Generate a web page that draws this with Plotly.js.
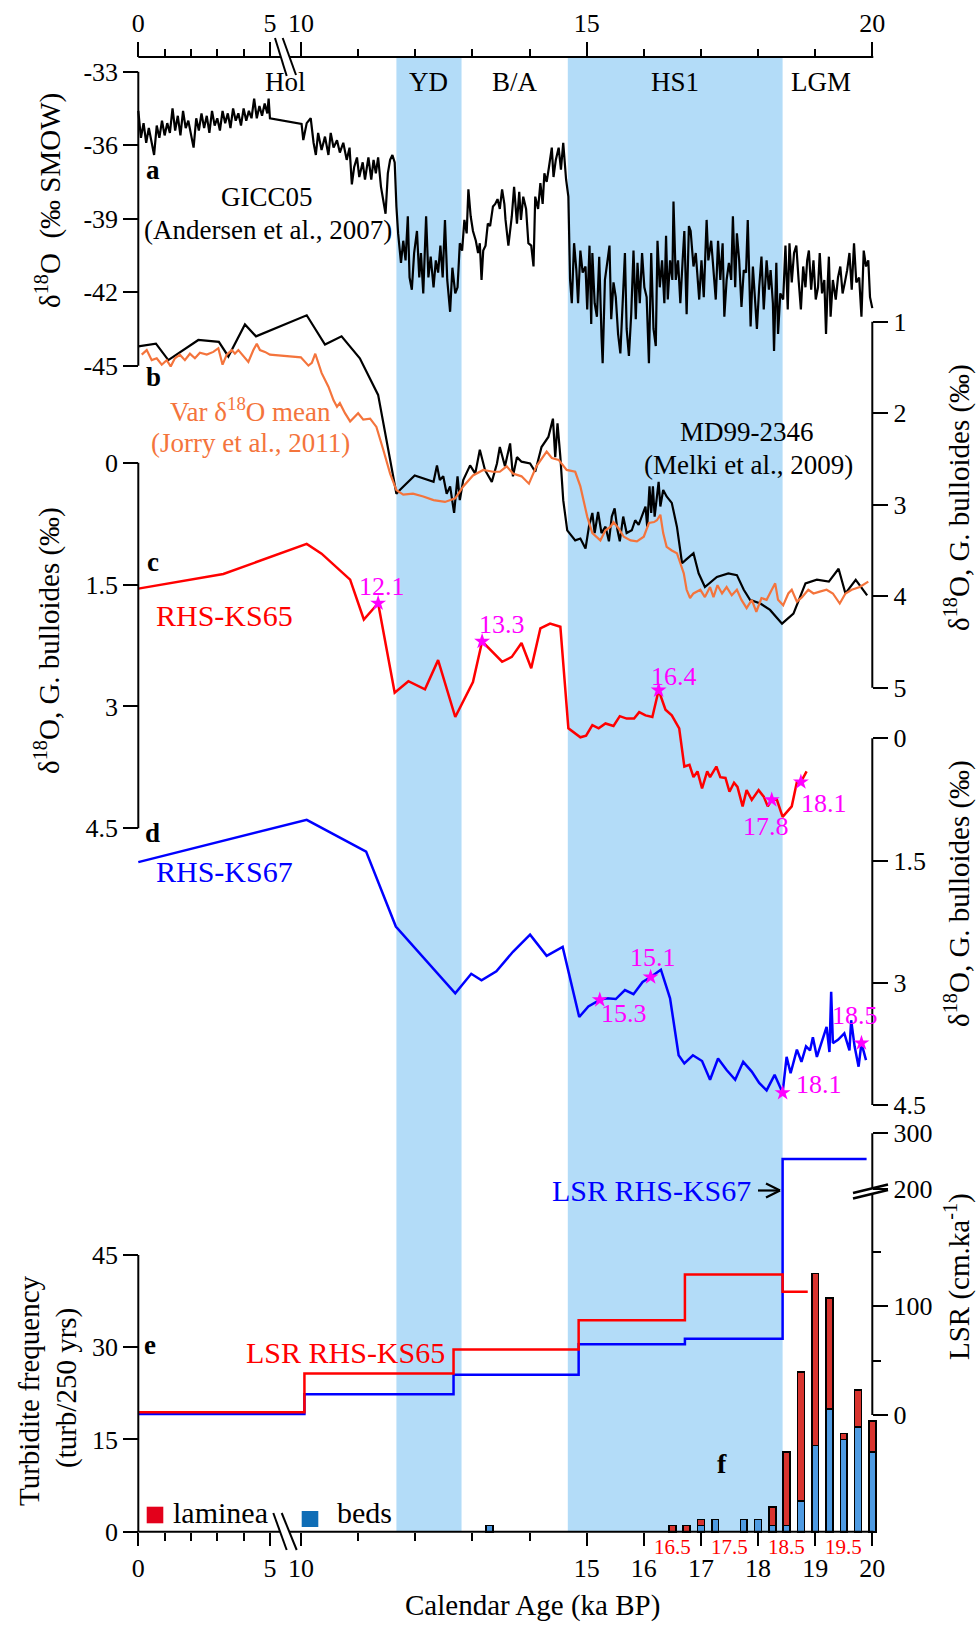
<!DOCTYPE html>
<html>
<head>
<meta charset="utf-8">
<script src="https://cdn.plot.ly/plotly-3.0.1.min.js"></script>
<style>
html, body { margin: 0; padding: 0; background: #fff; }
#chart { width: 978px; height: 1642px; }
</style>
</head>
<body>
<div id="chart"></div>
<script>
// ---------------- data ----------------
// a: GICC05 Greenland ice-core d18O (permil SMOW)
const gicc05Age = [
  0.00,0.10,0.20,0.30,0.40,0.50,0.60,0.70,0.80,0.90,1.00,1.10,1.20,1.30,1.40,1.50,1.60,1.70,1.80,1.90,
  2.00,2.10,2.20,2.30,2.40,2.50,2.60,2.70,2.80,2.90,3.00,3.10,3.20,3.30,3.40,3.50,3.60,3.70,3.80,3.90,
  4.00,4.10,4.20,4.30,4.40,4.50,4.60,4.70,4.80,4.90,4.95,5.00,
  10.01,10.04,10.10,10.17,10.22,10.26,10.30,10.36,10.42,10.48,10.52,10.57,10.63,10.68,10.74,10.80,10.85,10.89,10.93,10.98,
  11.02,11.08,11.12,11.18,11.23,11.27,11.31,11.35,11.40,11.44,11.48,11.52,11.56,11.60,11.64,11.67,11.70,11.75,11.79,11.83,
  11.87,11.90,11.94,11.98,12.03,12.07,12.10,12.14,12.19,12.23,12.27,12.32,12.36,12.40,12.44,12.48,12.52,12.56,12.61,12.65,
  12.70,12.74,12.78,12.82,12.86,12.90,12.93,12.97,13.01,13.06,13.10,13.13,13.16,13.19,13.23,13.27,13.31,13.36,13.40,13.44,
  13.48,13.52,13.56,13.58,13.63,13.69,13.73,13.78,13.82,13.85,13.89,13.94,13.98,14.03,14.07,14.10,14.15,14.19,14.23,14.26,
  14.30,14.34,14.39,14.42,14.46,14.51,14.55,14.59,14.64,14.68,14.71,14.74,14.78,14.82,14.85,14.89,14.93,14.98,15.01,15.05,
  15.08,15.10,15.14,15.18,15.22,15.26,15.28,15.32,15.36,15.40,15.43,15.47,15.51,15.55,15.59,15.63,15.67,15.70,15.74,15.78,
  15.82,15.86,15.89,15.93,15.97,16.01,16.05,16.09,16.13,16.17,16.21,16.24,16.28,16.32,16.36,16.39,16.42,16.46,16.50,16.52,
  16.56,16.60,16.64,16.68,16.71,16.75,16.79,16.82,16.87,16.91,16.97,17.01,17.05,17.10,17.13,17.18,17.22,17.26,17.30,17.34,
  17.38,17.41,17.45,17.49,17.53,17.56,17.60,17.63,17.67,17.71,17.75,17.79,17.82,17.87,17.91,17.95,17.98,18.02,18.06,18.10,
  18.15,18.19,18.22,18.26,18.28,18.32,18.35,18.39,18.44,18.48,18.52,18.55,18.59,18.63,18.67,18.71,18.75,18.79,18.83,18.86,
  18.89,18.93,18.97,19.01,19.05,19.08,19.12,19.16,19.19,19.22,19.24,19.27,19.31,19.36,19.40,19.44,19.48,19.52,19.56,19.60,
  19.64,19.68,19.72,19.77,19.81,19.85,19.89,19.93,19.96,20.00
];
const gicc05D18O = [
  -34.6,-35.7,-35.1,-35.9,-35.3,-35.8,-36.4,-35.2,-35.7,-35.0,-35.6,-35.1,-35.5,-34.5,-35.4,-34.8,-35.6,-34.6,-35.3,-35.0,
  -35.5,-36.1,-34.9,-35.4,-34.7,-35.3,-34.8,-35.5,-34.6,-35.2,-34.9,-35.4,-34.6,-35.1,-34.7,-35.3,-34.5,-35.0,-34.7,-35.2,
  -34.5,-35.0,-34.6,-34.9,-34.1,-34.9,-34.4,-34.8,-34.3,-34.7,-34.1,-34.9,
  -35.13,-35.79,-35.10,-34.90,-35.90,-36.40,-35.50,-36.20,-35.65,-36.40,-35.50,-36.10,-35.80,-36.30,-35.90,-36.60,-36.10,-37.60,-36.90,-36.50,
  -37.30,-36.70,-37.40,-36.50,-37.40,-36.60,-37.15,-36.50,-37.70,-38.20,-38.80,-37.15,-36.60,-36.40,-36.70,-38.50,-39.60,-40.80,-39.90,-40.70,
  -38.90,-41.40,-41.90,-40.40,-39.50,-41.40,-40.40,-42.05,-38.90,-41.40,-40.55,-41.80,-40.70,-41.20,-40.10,-41.40,-39.05,-41.50,-42.80,-41.00,
  -42.05,-41.80,-40.00,-40.30,-39.05,-39.60,-37.80,-38.90,-39.50,-39.90,-40.40,-40.00,-41.50,-40.30,-40.10,-39.20,-39.30,-38.50,-38.40,-38.20,
  -38.60,-37.80,-38.40,-39.05,-40.10,-38.90,-37.70,-39.20,-37.90,-39.05,-38.10,-38.60,-40.00,-40.10,-40.95,-38.10,-38.60,-37.55,-38.40,-37.15,
  -37.50,-36.90,-36.10,-37.30,-36.60,-36.10,-37.00,-35.90,-37.40,-38.10,-41.50,-42.45,-40.00,-41.10,-42.45,-40.30,-41.20,-40.95,-42.70,-40.10,
  -43.30,-40.40,-42.45,-43.00,-40.55,-43.80,-44.90,-41.50,-40.70,-40.10,-43.10,-41.60,-42.20,-43.70,-44.50,-42.20,-40.40,-43.50,-44.60,-42.90,
  -40.30,-43.10,-40.80,-42.45,-40.40,-41.80,-42.20,-44.90,-40.40,-43.50,-44.20,-39.90,-41.80,-40.70,-42.45,-39.70,-42.30,-40.70,-41.50,-38.30,
  -41.50,-40.70,-42.45,-40.70,-39.50,-42.90,-39.30,-39.50,-40.95,-40.40,-42.30,-40.70,-42.20,-39.05,-40.70,-39.90,-40.95,-42.30,-39.90,-41.50,
  -40.00,-43.00,-41.50,-40.80,-41.50,-38.90,-41.80,-39.60,-40.70,-42.60,-41.10,-41.20,-39.05,-43.40,-40.95,-42.30,-43.50,-41.80,-40.55,-42.70,
  -40.70,-41.90,-41.10,-42.45,-44.40,-40.80,-43.70,-42.05,-42.30,-40.10,-42.70,-40.00,-41.60,-40.40,-40.10,-41.50,-42.70,-40.95,-41.80,-40.70,
  -40.30,-41.90,-40.70,-42.30,-41.80,-40.40,-42.05,-41.50,-43.70,-41.60,-40.55,-43.00,-41.50,-42.30,-41.40,-40.95,-42.05,-41.60,-41.10,-40.40,
  -41.90,-40.00,-41.60,-41.40,-43.00,-40.30,-40.95,-40.70,-42.20,-42.65
];

// b: MD99-2346 G. bulloides d18O (permil)
const md99Age = [0,0.67,1.14,2.28,3.06,3.42,4.05,4.47,10.10,10.42,10.71,11.03,11.35,11.67,11.73,11.99,12.32,12.38,12.43,12.49,
  12.55,12.61,12.68,12.74,12.78,12.84,12.96,13.05,13.13,13.22,13.34,13.43,13.48,13.57,13.66,13.71,13.78,13.86,14.01,14.10,
  14.21,14.33,14.41,14.45,14.49,14.54,14.59,14.66,14.80,14.89,14.98,15.04,15.10,15.14,15.20,15.26,15.33,15.39,15.44,15.49,
  15.54,15.58,15.64,15.70,15.79,15.85,15.91,15.98,16.03,16.06,16.10,16.13,16.16,16.19,16.23,16.26,16.29,16.32,16.34,16.40,
  16.49,16.58,16.67,16.74,16.87,16.96,17.07,17.28,17.48,17.63,17.75,17.86,18.04,18.21,18.42,18.62,18.74,18.83,19.03,19.24,
  19.41,19.53,19.71,19.91];
const md99D18O = [1.27,1.24,1.42,1.20,1.22,1.38,1.03,1.16,0.93,1.25,1.16,1.40,1.80,2.88,2.84,2.68,2.75,2.57,2.73,2.69,
  2.88,2.80,3.09,2.69,2.95,2.73,2.57,2.66,2.40,2.62,2.75,2.55,2.37,2.58,2.33,2.69,2.48,2.53,2.55,2.64,
  2.37,2.26,2.06,2.48,2.11,2.48,2.95,3.28,3.39,3.37,3.48,3.24,3.09,3.31,3.08,3.31,3.24,3.40,3.13,3.04,
  3.28,3.40,3.13,3.31,3.28,3.17,3.22,3.09,3.02,3.24,2.80,3.09,2.80,3.13,2.88,2.75,3.02,2.91,2.84,2.91,
  2.98,3.24,3.64,3.60,3.53,3.75,3.90,3.79,3.75,3.77,3.93,4.04,4.08,4.15,4.30,4.19,4.01,3.86,3.82,3.84,
  3.70,3.97,3.82,3.99];

// b: Var d18O mean (Jorry et al., 2011)
const varMeanAge = [0.13,0.32,0.51,0.70,0.89,1.08,1.23,1.39,1.58,1.77,1.96,2.15,2.34,2.60,2.85,3.04,3.20,3.36,3.55,3.67,
  3.80,3.96,4.18,4.37,4.50,4.62,4.81,5.00,9.98,10.13,10.19,10.25,10.30,10.36,10.48,10.57,10.63,10.68,10.77,10.86,
  11.00,11.09,11.21,11.32,11.44,11.56,11.67,11.79,11.96,12.14,12.32,12.52,12.70,12.84,13.01,13.19,13.36,13.48,13.60,13.71,
  13.86,13.99,14.12,14.30,14.39,14.51,14.65,14.80,14.89,14.95,15.01,15.10,15.18,15.24,15.33,15.42,15.47,15.56,15.65,15.77,
  15.88,16.00,16.09,16.18,16.23,16.29,16.34,16.40,16.49,16.58,16.64,16.70,16.75,16.81,16.87,16.99,17.07,17.16,17.22,17.29,
  17.37,17.45,17.54,17.63,17.71,17.80,17.89,17.97,18.06,18.15,18.24,18.30,18.35,18.44,18.53,18.59,18.68,18.77,18.88,18.97,
  19.08,19.20,19.31,19.43,19.53,19.64,19.78,19.93];
const varMeanD18O = [1.36,1.31,1.42,1.40,1.47,1.42,1.49,1.40,1.36,1.42,1.35,1.40,1.34,1.36,1.33,1.29,1.47,1.36,1.31,1.35,
  1.31,1.36,1.44,1.31,1.24,1.31,1.33,1.36,1.39,1.48,1.45,1.35,1.44,1.56,1.71,1.86,1.93,1.89,2.00,2.09,
  2.00,2.07,2.06,2.15,2.40,2.66,2.84,2.89,2.88,2.91,2.95,2.97,2.93,2.80,2.68,2.62,2.64,2.64,2.58,2.66,
  2.69,2.77,2.58,2.42,2.49,2.51,2.62,2.64,2.80,2.95,3.13,3.31,3.35,3.39,3.28,3.24,3.19,3.26,3.35,3.39,
  3.40,3.35,3.20,3.19,3.17,3.11,3.31,3.46,3.50,3.53,3.64,3.75,3.93,4.02,3.97,3.93,4.01,3.90,4.01,3.88,
  3.97,3.90,3.99,3.93,4.04,4.13,4.04,4.17,4.02,4.04,3.93,3.86,4.04,4.10,3.97,3.93,4.06,4.01,3.93,3.97,
  3.95,3.93,3.97,4.08,3.97,3.93,3.90,3.84];

// c: RHS-KS65 G. bulloides d18O (permil)
const ks65Age = [0,3.23,10.10,10.36,10.86,11.10,11.35,11.64,11.88,12.17,12.40,12.70,13.01,13.17,13.52,13.69,13.86,14.03,14.19,14.36,
  14.54,14.68,14.89,14.99,15.10,15.21,15.33,15.47,15.58,15.70,15.83,15.92,16.03,16.15,16.26,16.38,16.49,16.62,16.71,16.80,
  16.87,16.94,17.02,17.11,17.16,17.27,17.34,17.43,17.50,17.58,17.64,17.73,17.80,17.89,18.01,18.10,18.17,18.24,18.33,18.43,
  18.59,18.68,18.75,18.85];
const ks65D18O = [1.55,1.37,1.00,1.12,1.44,1.93,1.73,2.83,2.69,2.79,2.43,3.13,2.70,2.20,2.45,2.39,2.22,2.53,2.04,1.98,
  2.02,3.27,3.38,3.36,3.23,3.27,3.21,3.24,3.12,3.15,3.15,3.07,3.11,3.13,2.80,3.04,3.11,3.27,3.74,3.72,
  3.87,3.80,4.01,3.80,3.87,3.74,3.87,3.88,4.05,3.94,3.99,4.23,4.03,4.15,4.03,4.11,4.23,4.15,4.15,4.36,
  4.23,3.93,3.93,3.80];
const ks65DateAge = [11.35, 13.17, 16.26, 18.24, 18.75];
const ks65DateD18O = [1.73, 2.20, 2.80, 4.15, 3.93];
const ks65DateLabel = ['12.1', '13.3', '16.4', '17.8', '18.1'];

// d: RHS-KS67 G. bulloides d18O (permil)
const ks67Age = [0,10.10,11.14,11.66,12.70,12.98,13.16,13.42,13.71,14.01,14.30,14.58,14.87,15.03,15.23,15.35,15.51,15.67,15.82,15.98,
  16.12,16.30,16.46,16.61,16.71,16.86,17.02,17.16,17.30,17.45,17.60,17.74,17.89,18.02,18.15,18.29,18.43,18.50,18.57,18.68,
  18.76,18.84,18.91,18.96,19.03,19.11,19.20,19.25,19.28,19.31,19.40,19.51,19.60,19.63,19.69,19.76,19.81,19.89];
const ks67D18O = [1.52,1.00,1.39,2.31,3.13,2.89,2.97,2.86,2.62,2.41,2.67,2.56,3.42,3.29,3.21,3.19,3.20,3.09,3.14,2.99,
  2.93,2.84,3.19,3.89,3.99,3.89,3.96,4.19,3.93,4.07,4.19,3.97,4.09,4.23,4.32,4.13,4.35,3.91,4.11,3.82,
  3.97,3.78,3.83,3.67,3.91,3.74,3.54,3.85,3.11,3.74,3.70,3.62,3.83,3.46,3.78,4.03,3.74,3.95];
const ks67DateAge = [15.23, 16.12, 18.43, 19.81];
const ks67DateD18O = [3.21, 2.93, 4.35, 3.74];
const ks67DateLabel = ['15.3', '15.1', '18.1', '18.5'];

// e: linear sedimentation rates (cm/ka), step starts
const lsrKs65Age = [0, 10.06, 12.67, 14.86, 16.72, 18.43, 18.87];
const lsrKs65 = [2.5, 38, 60, 87, 129, 113, 113];
const lsrKs67Age = [0, 10.06, 12.67, 14.86, 16.72, 18.43, 19.90];
const lsrKs67 = [1, 19, 37, 65, 70, 254, 254];

// f: turbidite frequency (turbidites per 250 yrs)
const turbAge = [13.3, 16.5, 16.75, 17.0, 17.25, 17.75, 18.0, 18.25, 18.5, 18.75, 19.0, 19.25, 19.5, 19.75, 20.0];
const turbBeds = [1, 0, 0, 1, 2, 2, 2, 1, 1, 5, 14, 20, 15, 17, 13];
const turbLaminae = [0, 1, 1, 1, 0, 0, 0, 3, 12, 21, 28, 18, 1, 6, 5];
const turbAgeMarks = [16.5, 17.5, 18.5, 19.5];

// climatic periods
const bandStart = [11.67, 14.67];
const bandEnd = [12.81, 18.43];
const periodLabel = ['Hol', 'YD', 'B/A', 'HS1', 'LGM'];
const periodAge = [7.5, 12.24, 13.74, 16.55, 19.1];

// axis ticks
const topTicks = [0, 5, 10, 15, 20];
const bottomTicks = [0, 5, 10, 15, 16, 17, 18, 19, 20];
const minorAgeTicks = [1, 2, 3, 4, 11, 12, 13, 14, 16, 17, 18, 19];
const giccTicks = [-33, -36, -39, -42, -45];
const md99Ticks = [1, 2, 3, 4, 5];
const ksTicks = [0, 1.5, 3, 4.5];
const turbTicks = [0, 15, 30, 45];
const lsrTicks = [0, 100, 200, 300];
const lsrMinorTicks = [50, 150];

// ---------------- geometry ----------------
const W = 978, H = 1642;
const FONT = '"Liberation Serif", "Times New Roman", serif';
const AGE0_PX = 138.3, HOL_PX_PER_KA = 26.33, AGE10_PX = 301, PX_PER_KA = 57.13;
const LEFT_PX = 138.3, RIGHT_PX = 872.3;

// broken age axis: 0-5 ka compressed, 5-10 ka cut, 10-20 ka full scale
function ageToU(t) {
  let px;
  const p5 = AGE0_PX + 5 * HOL_PX_PER_KA;
  if (t <= 5) px = AGE0_PX + t * HOL_PX_PER_KA;
  else if (t >= 10) px = AGE10_PX + (t - 10) * PX_PER_KA;
  else px = p5 + (t - 5) / 5 * (AGE10_PX - p5);
  return (px - AGE0_PX) / PX_PER_KA;
}
// broken LSR axis: linear to 150, compressed above 200
function lsrToD(v) {
  return v <= 160 ? v : 207.1 + (v - 200) * 0.513;
}
const px2x = px => px / W;
const py2y = py => 1 - py / H;

function ySpan(vA, pA, vB, pB, top, bot) {
  const k = (vB - vA) / (pB - pA);
  const at = p => vA + (p - pA) * k;
  return { domain: [py2y(bot), py2y(top)], range: [at(bot), at(top)] };
}

function yAxis(span, side, posPx, tickvals, ticktext, extra) {
  return Object.assign({
    domain: span.domain, range: span.range, anchor: 'free', position: px2x(posPx), side: side,
    showline: false, zeroline: false, showgrid: false,
    ticks: 'outside', ticklen: 15, tickwidth: 2, tickcolor: '#000',
    tickmode: 'array', tickvals: tickvals, ticktext: ticktext,
    tickfont: { family: FONT, size: 26, color: '#000' }, fixedrange: true
  }, extra || {});
}

const xDomainPx = [126, 886];
const xRange = [(xDomainPx[0] - AGE0_PX) / PX_PER_KA, (xDomainPx[1] - AGE0_PX) / PX_PER_KA];

const BAND = '#b3dcf8', ORANGE = '#f4743c', RED = '#ff0000', BLUE = '#0000ff', MAGENTA = '#ff00ff';
const LAM = '#d8342f', BEDS = '#4f9be2', LAM_KEY = '#e3001b', BEDS_KEY = '#0f6db6';

// ---------------- traces ----------------
const U = a => a.map(ageToU);
const line = (x, y, yaxis, color, width, shape) => ({
  type: 'scatter', mode: 'lines', x: U(x), y: y, yaxis: yaxis, xaxis: 'x',
  line: { color: color, width: width, shape: shape || 'linear' }, hoverinfo: 'skip'
});

const traces = [
  line(gicc05Age, gicc05D18O, 'y', '#000', 2.2),
  line(md99Age, md99D18O, 'y2', '#000', 2.2),
  line(varMeanAge, varMeanD18O, 'y2', ORANGE, 2.2),
  line(ks65Age, ks65D18O, 'y3', RED, 2.5),
  line(ks67Age, ks67D18O, 'y4', BLUE, 2.5),
  {
    type: 'scatter', mode: 'markers', x: U(ks65DateAge), y: ks65DateD18O, xaxis: 'x', yaxis: 'y3',
    marker: { symbol: 'star', size: 12, color: MAGENTA }, hoverinfo: 'skip'
  },
  {
    type: 'scatter', mode: 'markers', x: U(ks67DateAge), y: ks67DateD18O, xaxis: 'x', yaxis: 'y4',
    marker: { symbol: 'star', size: 12, color: MAGENTA }, hoverinfo: 'skip'
  },
  line(lsrKs67Age, lsrKs67.map(lsrToD), 'y6', BLUE, 2.5, 'hv'),
  line(lsrKs65Age, lsrKs65.map(lsrToD), 'y6', RED, 2.5, 'hv'),
  {
    type: 'bar', x: U(turbAge), y: turbBeds, xaxis: 'x', yaxis: 'y5', width: 0.12,
    marker: { color: BEDS, line: { color: '#000', width: 1.6 } }, hoverinfo: 'skip'
  },
  {
    type: 'bar', x: U(turbAge), y: turbLaminae, xaxis: 'x', yaxis: 'y5', width: 0.12,
    marker: { color: LAM, line: { color: '#000', width: 1.6 } }, hoverinfo: 'skip'
  },
  // carries the top age axis
  { type: 'scatter', mode: 'markers', x: [ageToU(0)], y: [-33], xaxis: 'x2', yaxis: 'y',
    marker: { opacity: 0 }, hoverinfo: 'skip' }
];

// ---------------- shapes ----------------
const shapes = [];
for (let i = 0; i < bandStart.length; i++) {
  shapes.push({
    type: 'rect', xref: 'x', yref: 'paper', x0: ageToU(bandStart[i]), x1: ageToU(bandEnd[i]),
    y0: py2y(1531.7), y1: py2y(57), fillcolor: BAND, line: { width: 0 }, layer: 'below'
  });
}
const seg = (x0, y0, x1, y1, w) => ({
  type: 'line', xref: 'paper', yref: 'paper', x0: px2x(x0), y0: py2y(y0), x1: px2x(x1), y1: py2y(y1),
  line: { color: '#000', width: w || 2 }, layer: 'above'
});
const vAxisLine = (px, yref, v0, v1) => ({
  type: 'line', xref: 'paper', yref: yref, x0: px2x(px), x1: px2x(px), y0: v0, y1: v1,
  line: { color: '#000', width: 2 }, layer: 'above'
});
// top and bottom age axes with break marks
shapes.push(seg(LEFT_PX, 57, 280.9, 57), seg(289.5, 57, RIGHT_PX + 1, 57));
shapes.push(seg(275, 38, 286.7, 76, 2), seg(282.7, 38, 296, 75, 2));
shapes.push(seg(LEFT_PX, 1531.7, 280.1, 1531.7), seg(289.3, 1531.7, RIGHT_PX + 1, 1531.7));
shapes.push(seg(273.3, 1513, 286.7, 1550, 2), seg(281.7, 1513, 296.7, 1550, 2));
// vertical axis lines
shapes.push(vAxisLine(LEFT_PX, 'y', -33, -45));
shapes.push(vAxisLine(RIGHT_PX, 'y2', 1, 5));
shapes.push(vAxisLine(LEFT_PX, 'y3', 0, 4.5));
shapes.push(vAxisLine(RIGHT_PX, 'y4', 0, 4.5));
shapes.push(vAxisLine(LEFT_PX, 'y5', 0, 45));
// LSR axis with a break near 200
shapes.push(seg(RIGHT_PX, 1133.3, RIGHT_PX, 1188.3), seg(RIGHT_PX, 1193.8, RIGHT_PX, 1415));
shapes.push(seg(853, 1193, 888, 1184.5, 2.5), seg(853, 1198.5, 888, 1190, 2.5));
// arrow from the LSR RHS-KS67 label
shapes.push(seg(758, 1190.5, 780, 1190.5, 2.2), seg(766, 1183.5, 780, 1190.5, 2.2), seg(766, 1197.5, 780, 1190.5, 2.2));
// legend keys
shapes.push({ type: 'rect', xref: 'paper', yref: 'paper', x0: px2x(146.7), x1: px2x(163.3),
  y0: py2y(1523.3), y1: py2y(1506.7), fillcolor: LAM_KEY, line: { width: 0 } });
shapes.push({ type: 'rect', xref: 'paper', yref: 'paper', x0: px2x(301.7), x1: px2x(318.3),
  y0: py2y(1527), y1: py2y(1511), fillcolor: BEDS_KEY, line: { width: 0 } });

// ---------------- annotations ----------------
const ann = [];
const txt = (px, py, text, size, color, opts) => Object.assign({
  xref: 'paper', yref: 'paper', x: px2x(px), y: py2y(py), text: text, showarrow: false,
  xanchor: 'center', yanchor: 'middle', font: { family: FONT, size: size, color: color || '#000' }
}, opts || {});

periodLabel.forEach((lab, i) => ann.push({
  xref: 'x', yref: 'paper', x: ageToU(periodAge[i]), y: py2y(82), text: lab, showarrow: false,
  xanchor: 'center', yanchor: 'middle', font: { family: FONT, size: 27, color: '#000' }
}));

ann.push(txt(153, 170, '<b>a</b>', 27));
ann.push(txt(266.7, 196.7, 'GICC05', 27));
ann.push(txt(267.7, 230, '(Andersen et al., 2007)', 27));
ann.push(txt(153, 377, '<b>b</b>', 27));
ann.push(txt(250, 410, 'Var δ<sup>18</sup>O mean', 27, ORANGE));
ann.push(txt(250, 443.3, '(Jorry et al., 2011)', 27, ORANGE));
ann.push(txt(746.7, 431.7, 'MD99-2346', 27));
ann.push(txt(748.3, 465, '(Melki et al., 2009)', 27));
ann.push(txt(153, 562, '<b>c</b>', 27));
ann.push(txt(224, 615, 'RHS-KS65', 30, RED));
ann.push(txt(152, 833, '<b>d</b>', 27));
ann.push(txt(224, 871.7, 'RHS-KS67', 30, BLUE));
ann.push(txt(150, 1345, '<b>e</b>', 27));
ann.push(txt(345, 1352.7, 'LSR RHS-KS65', 30, RED));
ann.push(txt(753, 1190.7, 'LSR RHS-KS67', 30, BLUE, { xanchor: 'right' }));
ann.push(txt(722, 1463, '<b>f</b>', 28));
ann.push(txt(171, 1512, 'laminea', 30, '#000', { xanchor: 'left' }));
ann.push(txt(335, 1512, 'beds', 30, '#000', { xanchor: 'left' }));

// axis titles
ann.push(txt(48, 201, 'δ<sup>18</sup>O  (‰ SMOW)', 29, '#000', { textangle: -90 }));
ann.push(txt(48, 641, 'δ<sup>18</sup>O, G. bulloides (‰)', 29, '#000', { textangle: -90 }));
ann.push(txt(29, 1391, 'Turbidite frequency', 29, '#000', { textangle: -90 }));
ann.push(txt(66, 1388, '(turb/250 yrs)', 29, '#000', { textangle: -90 }));
ann.push(txt(957, 498, 'δ<sup>18</sup>O, G. bulloides (‰)', 29, '#000', { textangle: -90 }));
ann.push(txt(957, 894, 'δ<sup>18</sup>O, G. bulloides (‰)', 29, '#000', { textangle: -90 }));
ann.push(txt(957, 1277, 'LSR (cm.ka<sup>-1</sup>)', 29, '#000', { textangle: -90 }));
ann.push(txt(532, 1605, 'Calendar Age (ka BP)', 29));

// dated levels
const ks65Shift = [[4, 17], [20, 17], [15, 14], [-6, -27], [23, -22]];
const ks67Shift = [[24, -14], [2, 20], [36, 8], [-6, 28]];
ks65DateAge.forEach((a, i) => ann.push({
  xref: 'x', yref: 'y3', x: ageToU(a), y: ks65DateD18O[i], text: ks65DateLabel[i], showarrow: false,
  xshift: ks65Shift[i][0], yshift: ks65Shift[i][1], font: { family: FONT, size: 26, color: MAGENTA }
}));
ks67DateAge.forEach((a, i) => ann.push({
  xref: 'x', yref: 'y4', x: ageToU(a), y: ks67DateD18O[i], text: ks67DateLabel[i], showarrow: false,
  xshift: ks67Shift[i][0], yshift: ks67Shift[i][1], font: { family: FONT, size: 26, color: MAGENTA }
}));
// sample ages under the turbidite bars
turbAgeMarks.forEach(a => ann.push({
  xref: 'x', yref: 'paper', x: ageToU(a), y: py2y(1547), text: String(a), showarrow: false,
  xanchor: 'center', yanchor: 'middle', font: { family: FONT, size: 21, color: RED }
}));

// ---------------- layout ----------------
const tickFont = { family: FONT, size: 26, color: '#000' };
const layout = {
  width: W, height: H, margin: { l: 0, r: 0, t: 0, b: 0 },
  paper_bgcolor: '#fff', plot_bgcolor: 'rgba(0,0,0,0)',
  showlegend: false, barmode: 'stack', bargap: 0,
  font: { family: FONT, size: 26, color: '#000' },
  xaxis: {
    domain: [px2x(xDomainPx[0]), px2x(xDomainPx[1])], range: xRange,
    anchor: 'free', position: py2y(1531.7), side: 'bottom',
    showline: false, zeroline: false, showgrid: false,
    ticks: 'outside', ticklen: 13, tickwidth: 2, tickcolor: '#000',
    tickmode: 'array', tickvals: bottomTicks.map(ageToU), ticktext: bottomTicks.map(String),
    minor: { tickmode: 'array', tickvals: [1, 2, 3, 4, 11, 12, 13, 14].map(ageToU), ticks: 'outside', ticklen: 8, tickwidth: 2, tickcolor: '#000', showgrid: false },
    tickfont: tickFont, fixedrange: true
  },
  xaxis2: {
    overlaying: 'x', range: xRange,
    anchor: 'free', position: py2y(57), side: 'top',
    showline: false, zeroline: false, showgrid: false,
    ticks: 'outside', ticklen: 15, tickwidth: 2, tickcolor: '#000',
    tickmode: 'array', tickvals: topTicks.map(ageToU), ticktext: topTicks.map(String),
    minor: { tickmode: 'array', tickvals: minorAgeTicks.map(ageToU), ticks: 'outside', ticklen: 8, tickwidth: 2, tickcolor: '#000', showgrid: false },
    tickfont: tickFont, fixedrange: true
  },
  yaxis: yAxis(ySpan(-33, 71.7, -45, 365.7, 60, 380), 'left', LEFT_PX, giccTicks, giccTicks.map(String)),
  yaxis2: yAxis(ySpan(1, 321.7, 5, 687.7, 300, 700), 'right', RIGHT_PX, md99Ticks, md99Ticks.map(String)),
  yaxis3: yAxis(ySpan(0, 462.7, 4.5, 828.3, 450, 840), 'left', LEFT_PX, ksTicks, ksTicks.map(String)),
  yaxis4: yAxis(ySpan(0, 738.3, 4.5, 1105, 725, 1115), 'right', RIGHT_PX, ksTicks, ksTicks.map(String)),
  yaxis5: yAxis(ySpan(0, 1531.7, 45, 1255, 1240, 1540), 'left', LEFT_PX, turbTicks, turbTicks.map(String)),
  yaxis6: yAxis(ySpan(0, 1415, 100, 1306, 1125, 1425), 'right', RIGHT_PX, lsrTicks.map(lsrToD), lsrTicks.map(String), {
    minor: { tickmode: 'array', tickvals: lsrMinorTicks.map(lsrToD), ticks: 'outside', ticklen: 8, tickwidth: 2, tickcolor: '#000', showgrid: false }
  }),
  shapes: shapes,
  annotations: ann
};

Plotly.newPlot('chart', traces, layout, { staticPlot: true, displayModeBar: false });
</script>
</body>
</html>
